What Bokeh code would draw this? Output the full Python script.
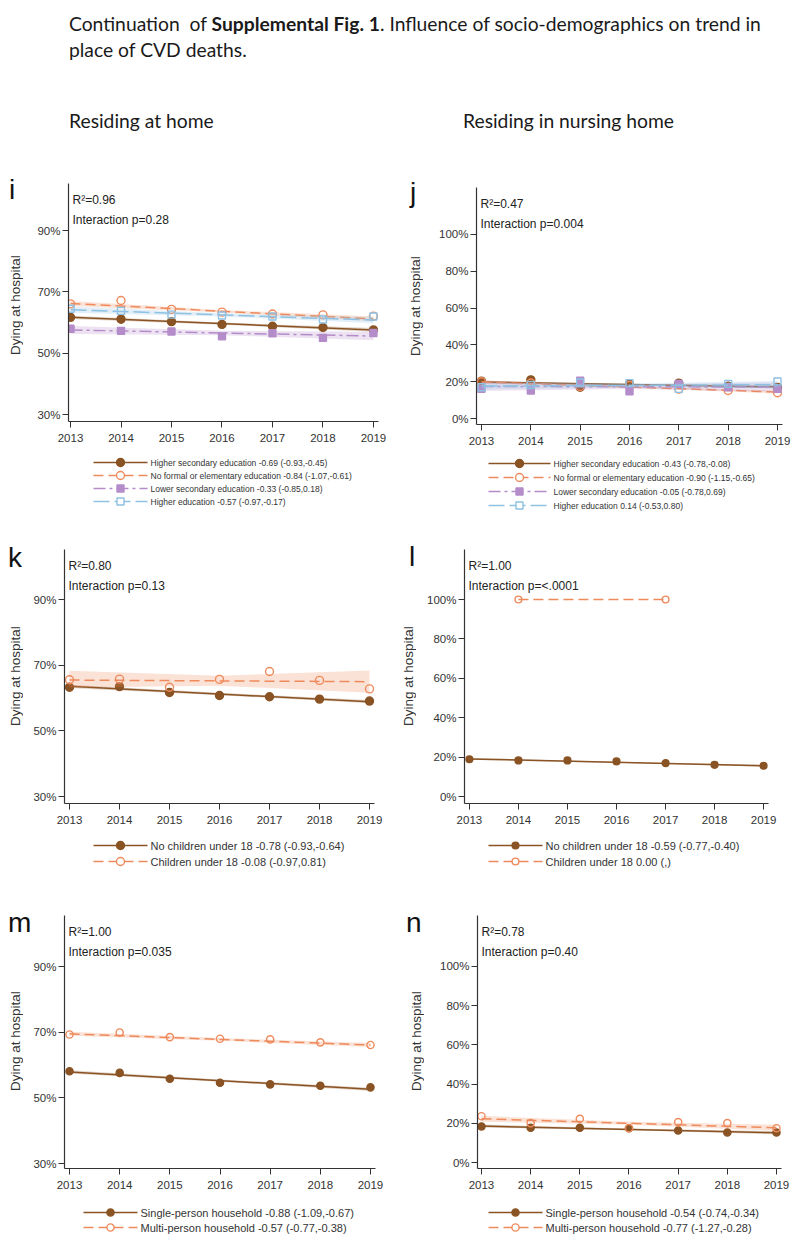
from bokeh.plotting import figure
from bokeh.models import Range1d, FixedTicker, PrintfTickFormatter, Label, Div
from bokeh.layouts import column, row
from bokeh.core.properties import value
from bokeh.embed import file_html
from bokeh.resources import INLINE

# ---------------- data ----------------
YEARS = [2013, 2014, 2015, 2016, 2017, 2018, 2019]
FIT_YEARS = [2013, 2019]
BAND_YEARS = [2013, 2016, 2019]

# panel i  (residing at home, education)
i_hsec = [61.7, 61.1, 60.3, 59.4, 58.8, 58.4, 57.6]
i_hsec_fit = [61.7, 57.6]
i_hsec_lo = [61.2, 59.3, 57.0]
i_hsec_hi = [62.2, 60.0, 58.2]
i_noformal = [66.1, 67.2, 64.3, 63.4, 62.8, 62.5, 62.1]
i_noformal_fit = [66.2, 61.2]
i_noformal_lo = [65.4, 63.3, 60.4]
i_noformal_hi = [67.0, 64.1, 62.0]
i_lowsec = [58.0, 57.3, 57.1, 55.5, 56.5, 55.0, 56.6]
i_lowsec_fit = [57.6, 55.6]
i_lowsec_lo = [56.3, 55.9, 54.2]
i_lowsec_hi = [58.9, 57.3, 57.0]
i_higher = [64.5, 63.8, 62.6, 62.3, 62.0, 61.0, 62.0]
i_higher_fit = [64.2, 60.8]
i_higher_lo = [63.2, 62.0, 59.8]
i_higher_hi = [65.2, 63.0, 61.8]

# panel j  (nursing home, education)
j_hsec = [20.3, 21.0, 17.0, 18.5, 19.2, 17.5, 16.9]
j_hsec_fit = [19.8, 17.2]
j_hsec_lo = [19.0, 18.1, 16.4]
j_hsec_hi = [20.6, 18.9, 18.0]
j_noformal = [20.0, 19.3, 17.4, 17.9, 16.0, 15.2, 14.0]
j_noformal_fit = [19.8, 14.4]
j_noformal_lo = [19.0, 16.7, 13.6]
j_noformal_hi = [20.6, 17.5, 15.2]
j_lowsec = [16.1, 15.2, 20.5, 14.8, 18.8, 17.0, 16.1]
j_lowsec_fit = [17.4, 17.1]
j_lowsec_lo = [15.0, 16.0, 14.6]
j_lowsec_hi = [19.8, 18.5, 19.6]
j_higher = [17.0, 18.2, 19.6, 19.2, 16.1, 18.8, 20.1]
j_higher_fit = [17.6, 18.4]
j_higher_lo = [15.8, 17.0, 16.4]
j_higher_hi = [19.4, 19.0, 20.4]

# panel k  (home, children)
k_nochild = [63.3, 63.5, 61.7, 60.8, 60.4, 59.7, 59.1]
k_nochild_fit = [63.6, 58.9]
k_nochild_lo = [63.1, 60.9, 58.4]
k_nochild_hi = [64.1, 61.6, 59.4]
k_child = [65.6, 65.8, 63.3, 65.7, 68.1, 65.4, 62.8]
k_child_fit = [65.5, 65.0]
k_child_lo = [63.2, 63.8, 61.6]
k_child_hi = [68.3, 66.8, 68.4]

# panel l  (nursing home, children)
l_nochild = [18.9, 18.3, 18.3, 17.8, 16.9, 16.1, 15.6]
l_nochild_fit = [19.1, 15.6]
l_nochild_lo = [18.6, 17.1, 15.1]
l_nochild_hi = [19.6, 17.6, 16.1]
l_child_years = [2014, 2017]
l_child = [100, 100]
l_child_fit = [100, 100]

# panel m  (home, household)
m_single = [58.1, 57.6, 55.8, 54.6, 54.1, 53.7, 53.2]
m_single_fit = [57.9, 52.6]
m_single_lo = [57.4, 54.9, 52.1]
m_single_hi = [58.4, 55.6, 53.1]
m_multi = [69.3, 69.9, 68.5, 68.0, 67.8, 66.9, 66.1]
m_multi_fit = [69.5, 66.1]
m_multi_lo = [68.9, 67.4, 65.5]
m_multi_hi = [70.1, 68.2, 66.7]

# panel n  (nursing home, household)
n_single = [18.4, 17.7, 17.7, 17.5, 16.3, 15.3, 15.3]
n_single_fit = [18.6, 15.2]
n_single_lo = [17.8, 16.4, 14.4]
n_single_hi = [19.4, 17.4, 16.0]
n_multi = [23.6, 20.1, 22.3, 17.5, 20.6, 20.1, 17.5]
n_multi_fit = [22.3, 17.7]
n_multi_lo = [20.8, 19.2, 16.2]
n_multi_hi = [23.8, 20.8, 19.2]

LEFT_TICKS = [30, 50, 70, 90]
RIGHT_TICKS = [0, 20, 40, 60, 80, 100]
Y_LABEL = "Dying at hospital"

# ---------------- styles ----------------
FONT = "Liberation Sans"
INK = "#333333"
STYLE = {
    "brown": dict(color="#8A5324", dash="solid", marker="circle", fill=True, size=8),
    "orange": dict(color="#EF8A5C", dash="10 5", marker="circle", fill=False, size=8),
    "purple": dict(color="#B48CC9", dash="12 4 3 4", marker="square", fill=True, size=7),
    "blue": dict(color="#8FC1E2", dash="16 5", marker="square", fill=False, size=7),
}


def S(label, style, y, fit, lo=None, hi=None, x=YEARS, fit_x=FIT_YEARS):
    return dict(label=label, style=style, y=y, fit=fit, lo=lo, hi=hi, x=x, fit_x=fit_x)


def make_panel(r2, pval, series, xr, yr, yticks, frame_w, frame_h, borders, msize_scale=1.0):
    bl, br, bt, bb = borders
    p = figure(frame_width=frame_w, frame_height=frame_h,
               x_range=Range1d(*xr), y_range=Range1d(*yr),
               min_border_left=bl, min_border_right=br, min_border_top=bt, min_border_bottom=bb,
               output_backend="svg", toolbar_location=None, title=None, margin=0,
               outline_line_color=None, background_fill_color=None, border_fill_color=None)
    p.xgrid.visible = False
    p.ygrid.visible = False
    for s in series:
        st = STYLE[s["style"]]
        if s["lo"] is not None:
            p.varea(x=BAND_YEARS, y1=s["lo"], y2=s["hi"], fill_color=st["color"], fill_alpha=0.25)
        p.line(s["fit_x"], s["fit"], line_color=st["color"], line_width=1.5, line_dash=st["dash"])
        p.scatter(s["x"], s["y"], marker=st["marker"], size=st["size"] * msize_scale,
                  line_color=st["color"], line_width=1.4,
                  fill_color=st["color"] if st["fill"] else None)

    p.xaxis.ticker = FixedTicker(ticks=YEARS)
    p.yaxis.ticker = FixedTicker(ticks=yticks)
    p.yaxis.formatter = PrintfTickFormatter(format="%d%%")
    for ax in (p.xaxis[0], p.yaxis[0]):
        ax.axis_line_color = INK
        ax.axis_line_width = 1.2
        ax.major_tick_line_color = INK
        ax.major_tick_out = 6
        ax.major_tick_in = 0
        ax.minor_tick_line_color = None
        ax.major_label_text_font = FONT
        ax.major_label_text_font_size = "11.5px"
        ax.major_label_text_color = INK
    p.xaxis.major_label_standoff = 6
    p.yaxis.major_label_standoff = 2

    p.add_layout(Label(x=xr[0], y=yr[1], x_offset=4, y_offset=-16, text="R\u00b2=" + r2,
                       text_font=FONT, text_font_size="12px", text_color="#222222",
                       text_align="left", text_baseline="middle"))
    p.add_layout(Label(x=xr[0], y=yr[1], x_offset=4, y_offset=-36, text="Interaction p=" + pval,
                       text_font=FONT, text_font_size="12px", text_color="#222222",
                       text_align="left", text_baseline="middle"))
    return p


def make_legend(series, frame_w, height, bl, br, x0, first_y, row_h, fs, glyph_w=54, msize_scale=1.0):
    """Legend key drawn in its own canvas; its frame lines up with the panel frame above,
    and its ranges are in pixels measured from the frame's top-left corner."""
    lf = figure(frame_width=frame_w, frame_height=height,
                min_border_left=bl, min_border_right=br, min_border_top=0, min_border_bottom=0,
                x_range=Range1d(0, frame_w), y_range=Range1d(height, 0),
                x_axis_location=None, y_axis_location=None, margin=0,
                output_backend="svg", toolbar_location=None, title=None,
                outline_line_color=None, background_fill_color=None, border_fill_color=None)
    lf.xgrid.visible = False
    lf.ygrid.visible = False
    for r, s in enumerate(series):
        st = STYLE[s["style"]]
        yc = first_y + r * row_h
        lf.segment(x0=[x0], y0=[yc], x1=[x0 + glyph_w], y1=[yc], line_color=st["color"],
                   line_width=1.5, line_dash=st["dash"])
        lf.scatter(x=[x0 + glyph_w / 2], y=[yc], marker=st["marker"], size=st["size"] * msize_scale,
                   line_color=st["color"], line_width=1.4,
                   fill_color=st["color"] if st["fill"] else "white")
        lf.text(x=[x0 + glyph_w + 3], y=[yc], text=[s["label"]], text_font=value(FONT),
                text_font_size=value(fs), text_color=INK, text_align="left",
                text_baseline="middle")
    return lf


def side_div(letter, width, height, letter_left, letter_top, label_left, label_cy):
    html = (
        f'<div style="position:relative; width:{width}px; height:{height}px;">'
        f'<div style="position:absolute; left:{letter_left}px; top:{letter_top}px; '
        f"font-family:'Liberation Sans'; font-size:28px; line-height:28px; color:#111;\">{letter}</div>"
        f'<div style="position:absolute; left:{label_left}px; top:{label_cy - 80}px; width:15px; height:160px; '
        f"writing-mode:vertical-rl; transform:rotate(180deg); text-align:center; white-space:nowrap; "
        f"font-family:'Liberation Sans'; font-size:13.5px; line-height:15px; color:#333;\">{Y_LABEL}</div>"
        '</div>'
    )
    return Div(text=html, width=width, height=height, margin=0)


edu_i = [
    S("Higher secondary education -0.69 (-0.93,-0.45)", "brown", i_hsec, i_hsec_fit, i_hsec_lo, i_hsec_hi),
    S("No formal or elementary education -0.84 (-1.07,-0.61)", "orange", i_noformal, i_noformal_fit, i_noformal_lo, i_noformal_hi),
    S("Lower secondary education -0.33 (-0.85,0.18)", "purple", i_lowsec, i_lowsec_fit, i_lowsec_lo, i_lowsec_hi),
    S("Higher education -0.57 (-0.97,-0.17)", "blue", i_higher, i_higher_fit, i_higher_lo, i_higher_hi),
]
edu_j = [
    S("Higher secondary education -0.43 (-0.78,-0.08)", "brown", j_hsec, j_hsec_fit, j_hsec_lo, j_hsec_hi),
    S("No formal or elementary education -0.90 (-1.15,-0.65)", "orange", j_noformal, j_noformal_fit, j_noformal_lo, j_noformal_hi),
    S("Lower secondary education -0.05 (-0.78,0.69)", "purple", j_lowsec, j_lowsec_fit, j_lowsec_lo, j_lowsec_hi),
    S("Higher education 0.14 (-0.53,0.80)", "blue", j_higher, j_higher_fit, j_higher_lo, j_higher_hi),
]
ch_k = [
    S("No children under 18 -0.78 (-0.93,-0.64)", "brown", k_nochild, k_nochild_fit, k_nochild_lo, k_nochild_hi),
    S("Children under 18 -0.08 (-0.97,0.81)", "orange", k_child, k_child_fit, k_child_lo, k_child_hi),
]
ch_l = [
    S("No children under 18 -0.59 (-0.77,-0.40)", "brown", l_nochild, l_nochild_fit, l_nochild_lo, l_nochild_hi),
    S("Children under 18 0.00 (,)", "orange", l_child, l_child_fit, x=l_child_years, fit_x=l_child_years),
]
hh_m = [
    S("Single-person household -0.88 (-1.09,-0.67)", "brown", m_single, m_single_fit, m_single_lo, m_single_hi),
    S("Multi-person household -0.57 (-0.77,-0.38)", "orange", m_multi, m_multi_fit, m_multi_lo, m_multi_hi),
]
hh_n = [
    S("Single-person household -0.54 (-0.74,-0.34)", "brown", n_single, n_single_fit, n_single_lo, n_single_hi),
    S("Multi-person household -0.77 (-1.27,-0.28)", "orange", n_multi, n_multi_fit, n_multi_lo, n_multi_hi),
]

pi = make_panel("0.96", "0.28", edu_i, (2012.96, 2019.1), (27.72, 105.37), LEFT_TICKS,
                310, 238, (38, 22, 23, 28))
pj = make_panel("0.47", "0.004", edu_j, (2012.899, 2019.101), (-3.26, 125.54), RIGHT_TICKS,
                306, 237, (40, 10, 27, 28))
pk = make_panel("0.80", "0.13", ch_k, (2012.9, 2019.1), (27.87, 105.3), LEFT_TICKS,
                310, 254, (33, 27, 23, 28))
pl = make_panel("1.00", "<.0001", ch_l, (2012.9, 2019.1), (-3.55, 125.38), RIGHT_TICKS,
                304, 254, (40, 17, 23, 28), 0.85)
pm = make_panel("1.00", "0.035", hh_m, (2012.9, 2019.1), (28.48, 105.54), LEFT_TICKS,
                311, 253, (33, 26, 39, 28), 0.9)
pn = make_panel("0.78", "0.40", hh_n, (2012.919, 2019.102), (-3.06, 126.0), RIGHT_TICKS,
                304, 253, (40, 12, 39, 28), 0.9)

li = make_legend(edu_i, 310, 77, 38, 22, 25, 13, 13, "8.5px")
lj = make_legend(edu_j, 306, 74, 40, 10, 12, 11, 14, "8.5px", glyph_w=62)
lk = make_legend(ch_k, 310, 45, 33, 27, 29, 14, 16, "11px")
ll = make_legend(ch_l, 304, 45, 40, 17, 24, 14, 16, "11px", msize_scale=0.85)
lm = make_legend(hh_m, 311, 40, 33, 26, 19, 16, 15, "11px", msize_scale=0.9)
ln_ = make_legend(hh_n, 304, 40, 40, 12, 11, 16, 15, "11px", msize_scale=0.9)

di = side_div("i", 22, 366, 1, 16, 0, 145)
dj = side_div("j", 36, 366, 10, 19, 8, 146)
dk = side_div("k", 22, 350, 0, 18, 0, 150)
dl = side_div("l", 23, 350, 8, 17, 0, 150)
dm = side_div("m", 22, 360, 0, 33, 0, 165)
dn = side_div("n", 36, 360, 5, 33, 8, 165)

TXT = "font-family:Lato; font-size:19.3px; color:#1a1a1a; line-height:26px; white-space:nowrap; margin:0;"
html = (
    f'<div style="{TXT} padding-left:61px; padding-top:3px;">Continuation&nbsp; of <b>Supplemental Fig. 1</b>. '
    'Influence of socio-demographics on trend in<br>place of CVD deaths.</div>'
    f'<div style="{TXT} margin-top:45px; padding-left:61px;">'
    '<span style="display:inline-block; width:394px">Residing at home</span>'
    '<span>Residing in nursing home</span></div>'
)
header = Div(text=html, width=776, height=152, margin=0)

layout = column(header,
                row(di, column(pi, li, spacing=0, margin=0), dj, column(pj, lj, spacing=0, margin=0),
                    spacing=0, margin=0),
                row(dk, column(pk, lk, spacing=0, margin=0), dl, column(pl, ll, spacing=0, margin=0),
                    spacing=0, margin=0),
                row(dm, column(pm, lm, spacing=0, margin=0), dn, column(pn, ln_, spacing=0, margin=0),
                    spacing=0, margin=0),
                spacing=0, margin=(8, 0, 0, 8))
open("out.html", "w").write(file_html(layout, INLINE))
